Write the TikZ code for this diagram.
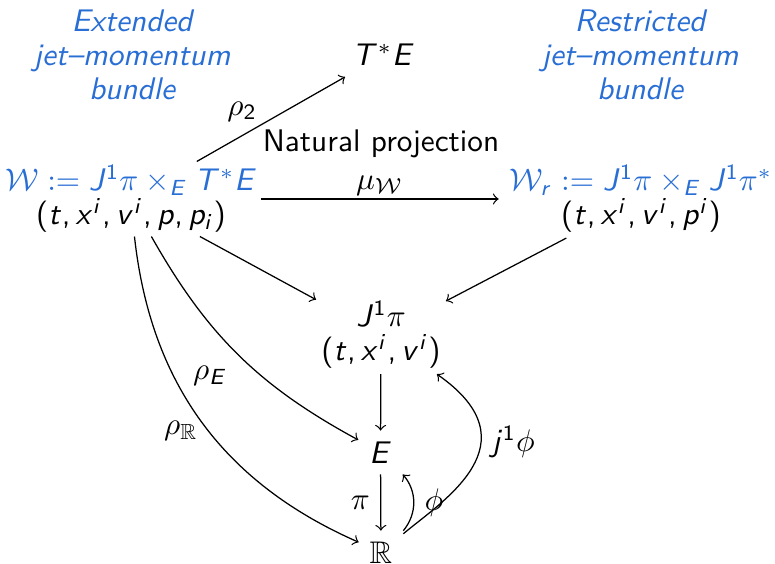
\documentclass[tikz,border=0pt]{standalone}
\usepackage{amssymb}
\renewcommand\familydefault{\sfdefault}
\DeclareSymbolFont{sfops}{OT1}{cmss}{m}{n}
\DeclareSymbolFont{sflet}{OT1}{cmss}{m}{sl}
\DeclareMathSymbol{J}{\mathalpha}{sflet}{`J}
\DeclareMathSymbol{E}{\mathalpha}{sflet}{`E}
\DeclareMathSymbol{T}{\mathalpha}{sflet}{`T}
\DeclareMathSymbol{t}{\mathalpha}{sflet}{`t}
\DeclareMathSymbol{x}{\mathalpha}{sflet}{`x}
\DeclareMathSymbol{v}{\mathalpha}{sflet}{`v}
\DeclareMathSymbol{p}{\mathalpha}{sflet}{`p}
\DeclareMathSymbol{i}{\mathalpha}{sflet}{`i}
\DeclareMathSymbol{r}{\mathalpha}{sflet}{`r}
\DeclareMathSymbol{j}{\mathalpha}{sflet}{`j}
\DeclareMathSymbol{1}{\mathalpha}{sfops}{`1}
\DeclareMathSymbol{2}{\mathalpha}{sfops}{`2}
\DeclareMathSymbol{(}{\mathopen}{sfops}{"28}
\DeclareMathSymbol{)}{\mathclose}{sfops}{"29}
\DeclareMathSymbol{,}{\mathpunct}{sfops}{"2C}
\definecolor{bundleblue}{RGB}{40,110,212}
\tikzset{
  obj/.style={inner sep=0.3333em, align=center, font=\fontsize{10}{10.9}\selectfont},
  bundletitle/.style={obj, text=bundleblue, font=\fontsize{10}{10.9}\selectfont\itshape},
  arr/.style={->, line width=0.4pt},
  lbl/.style={inner sep=0.3333em}
}
\begin{document}
\begin{tikzpicture}[x=0.32pt,y=0.32pt]
\useasboundingbox (0,0) rectangle (775,564);
% titles
\node[bundletitle] (ext) at (132,509) {Extended\\jet--momentum\\bundle};
\node[bundletitle] (res) at (640,509) {Restricted\\jet--momentum\\bundle};
% objects
\node[obj] (TE) at (383.5,509) {$T^*E$};
\node[obj] (NP) at (381,420) {Natural projection};
\node[obj, inner sep=1pt] (W) at (131,365) {\textcolor{bundleblue}{$\mathcal{W} := J^1\pi\times_E T^*E$}\\$(t,x^i,v^i,p,p_i)$};
\node[obj, inner ysep=1.5pt] (Wr) at (641,365) {\textcolor{bundleblue}{$\mathcal{W}_r := J^1\pi\times_E J^1\pi^*$}\\$(t,x^i,v^i,p^i)$};
\node[obj, inner sep=1.5pt] (J) at (381,229) {$J^1\pi$\\$(t,x^i,v^i)$};
\node[obj] (E) at (380.5,111.5) {$E$};
\node[obj] (R) at (381,11.5) {$\mathbb{R}$};
% arrows
\draw[arr] (W) -- node[lbl, anchor=south east, inner sep=1pt, pos=0.43] {$\rho_2$} (TE);
\draw[arr] (W) -- node[lbl, above, inner sep=1pt] {$\mu_{\mathcal{W}}$} (Wr);
\draw[arr] (W) -- (J);
\draw[arr] (Wr) -- (J);
\draw[arr] (W) to[bend right=16] node[lbl, pos=0.5, anchor=north east] {$\rho_E$} (E);
\draw[arr] (W) to[bend right=30] node[lbl, pos=0.53, anchor=east] {$\rho_{\mathbb{R}}$} (R);
\draw[arr] (J) -- (E);
\draw[arr] (E) -- node[lbl, left] {$\pi$} (R);
\draw[arr] (R.north east) to[bend right=40] node[lbl, right] {$\phi$} (E.south east);
\draw[arr] (R) to[out=40, in=-35, out looseness=0.8, in looseness=1.9] node[lbl, pos=0.65, right] {$j^1\phi$} (J);
\end{tikzpicture}
\end{document}
